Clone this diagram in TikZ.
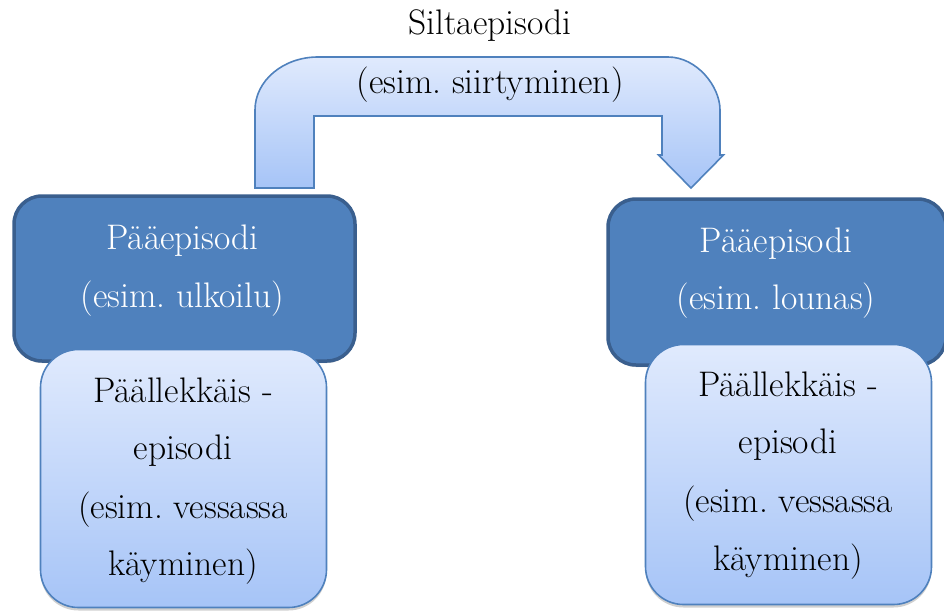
\documentclass[tikz,border=0pt]{standalone}
\usepackage{fontspec}
\usetikzlibrary{shadows}
\definecolor{mainfill}{HTML}{4F81BD}
\definecolor{mainborder}{HTML}{3A5F8E}
\definecolor{lighttop}{HTML}{E0EAFD}
\definecolor{lightbot}{HTML}{A6C4F7}
\tikzset{
  mainbox/.style={draw=mainborder, line width=3.5pt, fill=mainfill, rounded corners=28pt,
    inner sep=0pt, drop shadow={shadow xshift=0pt, shadow yshift=-2pt, opacity=0.3, fill=black!60}},
  overbox/.style={draw=mainfill, line width=1.6pt, top color=lighttop, bottom color=lightbot,
    rounded corners=38pt, inner sep=0pt,
    drop shadow={shadow xshift=0pt, shadow yshift=-3pt, opacity=0.3, fill=black!60}},
  txt/.style={font=\fontsize{35.5}{40}\selectfont\frenchspacing, anchor=base, inner sep=0pt},
  wtxt/.style={txt, text=white},
  arrowshape/.style={draw=mainfill, line width=1.6pt, top color=lighttop, bottom color=lightbot, line join=miter}
}
\begin{document}
\begin{tikzpicture}[x=1pt, y=-1pt]
\clip (0,0) rectangle (944,610);
\fill[white] (0,0) rectangle (944,610);
% bridge arrow
\path[arrowshape] (255,188) -- (255,110)
  .. controls (255,80.7) and (283.2,57) .. (318,57)
  -- (668,57)
  .. controls (696.7,57) and (720,86.3) .. (720,110)
  -- (720,155) -- (723.5,155) -- (691,188) -- (658.5,155) -- (662,155)
  -- (662,116) -- (314,116) -- (314,188) -- cycle;
\node[txt] (silta) at (490,35) {Siltaepisodi};
\node[txt] (siirt) at (490,93) {(esim. siirtyminen)};
% main boxes
\node[mainbox, minimum width=341pt, minimum height=165pt] (mainL) at (184.5,278.5) {};
\node[mainbox, minimum width=338pt, minimum height=166pt] (mainR) at (777,282) {};
\node[wtxt] (mainLa) at (182.5,249) {Pääepisodi};
\node[wtxt] (mainLb) at (182.5,307) {(esim. ulkoilu)};
\node[wtxt] (mainRa) at (776,252) {Pääepisodi};
\node[wtxt] (mainRb) at (776,309) {(esim. lounas)};
% overlap boxes
\node[overbox, minimum width=286pt, minimum height=258pt] (overL) at (183.5,478.5) {};
\node[overbox, minimum width=286pt, minimum height=260pt] (overR) at (788.5,474.5) {};
\node[txt] (overLa) at (183,402) {Päällekkäis -};
\node[txt] (overLb) at (183,459) {episodi};
\node[txt] (overLc) at (183,518) {(esim. vessassa};
\node[txt] (overLd) at (183,575) {käyminen)};
\node[txt] (overRa) at (788,396) {Päällekkäis -};
\node[txt] (overRb) at (788,453) {episodi};
\node[txt] (overRc) at (788,512) {(esim. vessassa};
\node[txt] (overRd) at (788,570) {käyminen)};
\end{tikzpicture}
\end{document}
